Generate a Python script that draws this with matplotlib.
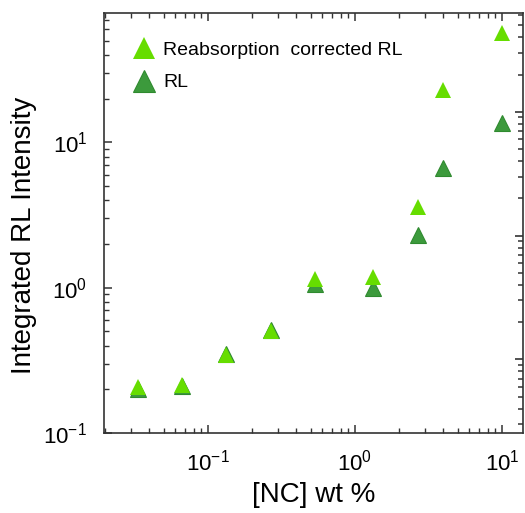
import matplotlib
matplotlib.use('Agg')
import matplotlib.pyplot as plt
from matplotlib.ticker import LogLocator, NullFormatter

plt.rcParams['font.family'] = ['Liberation Sans', 'DejaVu Sans']
plt.rcParams['mathtext.fontset'] = 'custom'
plt.rcParams['mathtext.rm'] = 'Liberation Sans'
plt.rcParams['mathtext.default'] = 'regular'
plt.rcParams['axes.unicode_minus'] = False

# data
nc_wt = [0.0333, 0.0667, 0.133, 0.267, 0.533, 1.33, 2.67, 4.0, 10.0]
rl = [0.20, 0.21, 0.35, 0.51, 1.06, 1.00, 2.29, 6.65, 13.5]
rl_corrected = [0.206, 0.215, 0.345, 0.50, 1.15, 1.19, 3.6, 22.9, 57.0]

dark = '#3c9a3c'
light = '#66dd00'
axc = '#333333'

fig = plt.figure(figsize=(5.25, 5.13), dpi=100)
ax = fig.add_axes([0.198, 0.156, 0.798, 0.819])

ax.plot(nc_wt, rl, '^', color=dark, markersize=12, markeredgewidth=0.8,
        markeredgecolor='#2f8a2f', label='RL', linestyle='none')
ax.plot(nc_wt, rl_corrected, '^', color=light, markersize=12, markeredgewidth=0,
        label='Reabsorption  corrected RL', linestyle='none')

ax.set_xscale('log')
ax.set_yscale('log')
ax.set_xlim(0.0196, 13.9)
ax.set_ylim(0.1, 78)

ax.set_xlabel('[NC] wt %', fontsize=20, labelpad=5)
ax.set_ylabel('Integrated RL Intensity', fontsize=20)
ax.yaxis.set_label_coords(-0.16, 0.471)

ax.tick_params(which='both', direction='in', colors=axc, labelcolor='black',
               labelsize=16, top=True, right=False)
ax.tick_params(which='major', length=6, width=1.1, pad=12)
ax.tick_params(which='minor', length=3.5, width=1.0)
for s in ax.spines.values():
    s.set_color(axc)
    s.set_linewidth(1.2)

# second, unlabeled log axis on the right
ax2 = ax.twinx()
ax2.set_yscale('log')
ax2.set_ylim(0.255, 630)
ax2.yaxis.set_major_locator(LogLocator(numticks=20))
ax2.yaxis.set_minor_locator(LogLocator(subs=[2, 3, 4, 5, 6, 7, 8, 9], numticks=20))
ax2.yaxis.set_minor_formatter(NullFormatter())
ax2.tick_params(which='both', direction='in', color=axc, labelright=False,
                right=True, left=False)
ax2.tick_params(which='major', length=6, width=1.2)
ax2.tick_params(which='minor', length=3.5, width=1.1)
for s in ax2.spines.values():
    s.set_visible(False)

handles, labels = ax.get_legend_handles_labels()
ax.legend(handles[::-1], labels[::-1], loc='upper left', frameon=False,
          fontsize=14, handletextpad=0.0, labelspacing=0.75, markerscale=1.3,
          borderaxespad=0.0, bbox_to_anchor=(0.03, 0.95))

fig.savefig('out.png', dpi=100)
